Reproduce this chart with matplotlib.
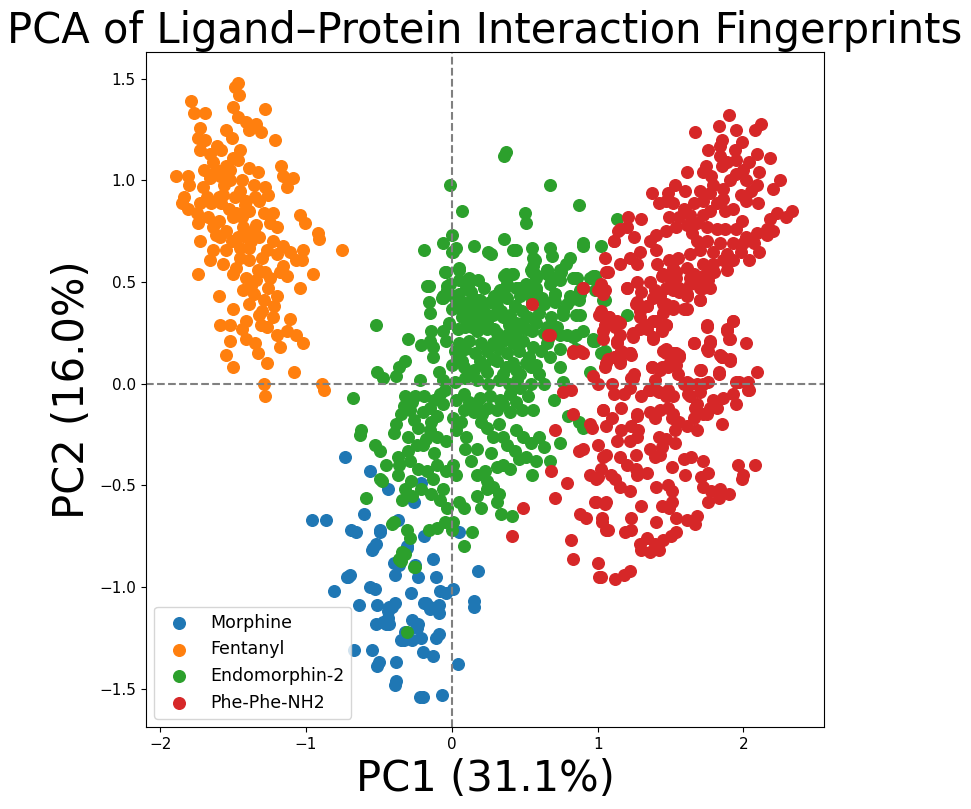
import numpy as np
import matplotlib
matplotlib.use("Agg")
import matplotlib.pyplot as plt

# PC1 / PC2 scores, one list per ligand
ligands = ["Morphine", "Fentanyl", "Endomorphin-2", "Phe-Phe-NH2"]
colors = ["tab:blue", "tab:orange", "tab:green", "tab:red"]

morphine_pc = [
    (-0.73, -0.36), (-0.56, -0.43), (-0.44, -0.52), (-0.21, -0.49), (-0.26, -0.58),
    (-0.60, -0.64), (-0.96, -0.67), (-0.86, -0.67), (-0.69, -0.72), (-0.66, -0.73),
    (-0.49, -0.72), (-0.37, -0.67), (-0.19, -0.75), (0.05, -0.73), (-0.54, -0.81),
    (-0.52, -0.79), (-0.31, -0.81), (-0.40, -0.88), (-0.36, -0.89), (-0.25, -0.89),
    (-0.13, -0.86), (0.18, -0.92), (-0.72, -0.95), (-0.70, -0.94), (-0.39, -0.94),
    (-0.23, -0.95), (-0.11, -0.95), (-0.81, -1.02), (-0.56, -1.00), (-0.53, -1.01),
    (-0.28, -1.03), (-0.08, -1.02), (-0.04, -1.03), (0.01, -1.01), (0.15, -1.07),
    (0.15, -1.10), (-0.64, -1.09), (-0.51, -1.09), (-0.39, -1.08), (-0.43, -1.10),
    (-0.19, -1.08), (-0.15, -1.10), (-0.09, -1.09), (-0.09, -1.13), (-0.52, -1.18),
    (-0.47, -1.17), (-0.44, -1.15), (-0.43, -1.18), (-0.27, -1.16), (-0.23, -1.18),
    (-0.33, -1.26), (-0.27, -1.26), (-0.21, -1.25), (-0.09, -1.23), (-0.67, -1.31),
    (-0.55, -1.31), (-0.20, -1.32), (-0.13, -1.34), (-0.50, -1.37), (-0.38, -1.37),
    (0.04, -1.38), (-0.38, -1.46), (-0.20, -1.54), (-0.07, -1.53), (-0.55, -0.82),
    (-0.31, -0.80), (-0.71, -0.95), (-0.49, -0.73), (-0.41, -1.10), (-0.44, -1.12),
    (-0.18, -1.08), (-0.15, -1.11), (-0.24, -1.20), (-0.35, -1.26), (-0.32, -1.22),
    (-0.11, -1.25), (-0.51, -1.39), (-0.39, -1.48), (-0.22, -1.54), (-0.45, -1.18),
]

fentanyl_pc = [
    (-1.47, 1.48), (-1.49, 1.46), (-1.46, 1.42), (-1.79, 1.39), (-1.50, 1.36),
    (-1.28, 1.35), (-1.77, 1.33), (-1.69, 1.33), (-1.47, 1.31), (-1.41, 1.29),
    (-1.34, 1.28), (-1.39, 1.25), (-1.31, 1.24), (-1.73, 1.26), (-1.55, 1.25),
    (-1.51, 1.21), (-1.21, 1.20), (-1.74, 1.21), (-1.69, 1.20), (-1.61, 1.17),
    (-1.73, 1.15), (-1.66, 1.13), (-1.58, 1.15), (-1.50, 1.11), (-1.47, 1.10),
    (-1.64, 1.09), (-1.55, 1.07), (-1.39, 1.06), (-1.33, 1.04), (-1.89, 1.02),
    (-1.81, 1.02), (-1.17, 1.07), (-1.16, 1.02), (-1.09, 1.01), (-1.13, 0.97),
    (-1.80, 0.98), (-1.71, 0.97), (-1.66, 1.01), (-1.59, 1.02), (-1.52, 1.00),
    (-1.44, 1.00), (-1.36, 0.98), (-1.28, 0.97), (-1.84, 0.92), (-1.85, 0.89),
    (-1.81, 0.86), (-1.73, 0.89), (-1.65, 0.89), (-1.57, 0.93), (-1.58, 0.89),
    (-1.49, 0.92), (-1.41, 0.90), (-1.32, 0.90), (-1.26, 0.93), (-1.48, 0.84),
    (-1.39, 0.85), (-1.29, 0.84), (-1.23, 0.84), (-1.75, 0.84), (-1.67, 0.82),
    (-1.60, 0.80), (-1.50, 0.82), (-1.04, 0.83), (-1.01, 0.79), (-1.74, 0.79),
    (-1.64, 0.77), (-1.55, 0.75), (-1.43, 0.77), (-1.34, 0.78), (-1.25, 0.79),
    (-1.20, 0.77), (-0.92, 0.74), (-0.91, 0.71), (-1.73, 0.70), (-1.59, 0.72),
    (-1.51, 0.70), (-1.41, 0.72), (-1.32, 0.72), (-1.23, 0.70), (-1.16, 0.68),
    (-0.75, 0.66), (-1.02, 0.66), (-1.64, 0.66), (-1.55, 0.66), (-1.45, 0.67),
    (-1.39, 0.67), (-1.27, 0.66), (-1.20, 0.64), (-1.11, 0.65), (-1.07, 0.61),
    (-1.03, 0.61), (-1.66, 0.61), (-1.57, 0.59), (-1.48, 0.57), (-1.39, 0.61),
    (-1.16, 0.58), (-1.13, 0.53), (-0.95, 0.54), (-1.74, 0.54), (-1.50, 0.54),
    (-1.41, 0.52), (-1.34, 0.51), (-1.25, 0.52), (-1.04, 0.47), (-1.60, 0.43),
    (-1.43, 0.46), (-1.36, 0.44), (-1.29, 0.41), (-1.20, 0.43), (-1.39, 0.39),
    (-1.50, 0.37), (-1.32, 0.34), (-1.41, 0.31), (-1.23, 0.33), (-1.11, 0.32),
    (-1.59, 0.29), (-1.52, 0.29), (-1.44, 0.27), (-1.27, 0.28), (-1.20, 0.24),
    (-1.13, 0.26), (-1.07, 0.24), (-1.02, 0.20), (-1.52, 0.21), (-1.41, 0.22),
    (-1.35, 0.20), (-1.33, 0.15), (-1.18, 0.18), (-1.55, 0.14), (-1.27, 0.10),
    (-1.50, 0.08), (-1.08, 0.06), (-1.29, 0.00), (-0.89, 0.00), (-1.28, -0.06),
    (-0.88, -0.03), (-1.62, 1.05), (-1.56, 0.98), (-1.45, 0.95), (-1.53, 0.86),
    (-1.44, 0.82), (-1.36, 0.75), (-1.30, 0.62), (-1.33, 0.56), (-1.45, 0.62),
    (-1.26, 0.47), (-1.30, 0.36), (-1.70, 1.05), (-1.60, 0.92), (-1.38, 0.70),
    (-1.18, 0.55), (-1.22, 0.38), (-1.52, 1.05), (-1.45, 1.15), (-1.42, 0.88),
    (-1.35, 0.92), (-1.47, 0.72), (-1.28, 0.55), (-1.38, 0.48), (-1.31, 0.29),
    (-1.68, 0.92), (-1.62, 0.73),
]

endomorphin_pc = [
    (0.36, 1.12), (0.37, 1.14), (-0.01, 0.98), (0.67, 0.98), (0.87, 0.88),
    (0.07, 0.85), (0.50, 0.84), (0.51, 0.79), (0.00, 0.73), (0.36, 0.71),
    (-0.06, 0.69), (-0.19, 0.66), (0.03, 0.67), (0.00, 0.65), (0.15, 0.68),
    (0.25, 0.65), (0.27, 0.64), (0.42, 0.66), (0.44, 0.66), (0.55, 0.67),
    (0.56, 0.62), (0.67, 0.67), (0.69, 0.63), (0.81, 0.62), (0.90, 0.68),
    (1.02, 0.68), (-0.05, 0.55), (0.05, 0.57), (0.12, 0.52), (0.18, 0.51),
    (0.36, 0.53), (0.41, 0.54), (0.38, 0.49), (0.54, 0.56), (0.57, 0.54),
    (0.65, 0.56), (0.74, 0.56), (0.78, 0.59), (0.68, 0.50), (0.86, 0.52),
    (0.97, 0.53), (-0.17, 0.48), (-0.03, 0.48), (0.01, 0.43), (-0.06, 0.43),
    (0.10, 0.50), (0.10, 0.47), (0.32, 0.45), (0.36, 0.46), (0.46, 0.47),
    (0.51, 0.47), (0.58, 0.47), (0.53, 0.44), (0.71, 0.44), (0.81, 0.43),
    (0.87, 0.41), (-0.16, 0.40), (-0.15, 0.35), (-0.06, 0.42), (0.02, 0.38),
    (0.11, 0.39), (0.17, 0.41), (0.21, 0.39), (0.26, 0.40), (0.31, 0.38),
    (0.43, 0.38), (0.48, 0.36), (0.63, 0.39), (0.76, 0.36), (0.88, 0.34),
    (-0.52, 0.29), (-0.30, 0.22), (-0.21, 0.19), (-0.14, 0.26), (-0.15, 0.21),
    (-0.06, 0.26), (0.07, 0.33), (0.09, 0.28), (0.12, 0.33), (0.17, 0.31),
    (0.20, 0.34), (0.24, 0.31), (0.28, 0.34), (0.35, 0.33), (0.44, 0.30),
    (0.17, 0.26), (0.24, 0.27), (0.31, 0.25), (0.38, 0.24), (0.44, 0.25),
    (0.51, 0.27), (0.58, 0.30), (0.63, 0.25), (0.72, 0.28), (0.79, 0.24),
    (0.85, 0.24), (0.97, 0.21), (-0.13, 0.18), (-0.04, 0.21), (0.05, 0.20),
    (0.12, 0.21), (0.20, 0.20), (0.28, 0.20), (0.35, 0.21), (0.42, 0.20),
    (0.49, 0.21), (0.56, 0.18), (0.65, 0.20), (0.74, 0.17), (0.85, 0.17),
    (1.02, 0.15), (-0.32, 0.11), (-0.36, 0.08), (-0.51, 0.06), (-0.47, 0.03),
    (-0.38, 0.04), (-0.22, 0.02), (-0.13, 0.13), (-0.09, 0.06), (-0.06, 0.02),
    (0.04, 0.13), (0.08, 0.08), (0.12, 0.05), (0.19, 0.11), (0.24, 0.06),
    (0.31, 0.11), (0.35, 0.05), (0.42, 0.10), (0.47, 0.05), (0.54, 0.08),
    (0.60, 0.05), (0.67, 0.13), (0.74, 0.08), (0.76, 0.01), (0.95, 0.06),
    (1.04, 0.41), (0.98, 0.21), (1.13, 0.81), (0.83, 0.52), (0.95, 0.52),
    (0.98, 0.53), (0.88, 0.44), (1.05, 0.41), (1.20, 0.34), (0.97, 0.22),
    (1.05, 0.16), (0.76, 0.34), (0.70, 0.41), (0.65, 0.54), (0.74, 0.51),
    (0.79, 0.39), (0.85, 0.34), (0.90, 0.26), (0.83, 0.23), (0.74, 0.24),
    (0.65, 0.28),
    (-0.68, -0.07), (-0.32, -0.06), (-0.25, -0.06), (-0.19, -0.06), (-0.08, -0.05),
    (-0.05, -0.03), (-0.33, -0.11), (-0.29, -0.13), (-0.15, -0.12), (-0.06, -0.10),
    (0.08, -0.05), (0.12, -0.09), (0.19, -0.07), (0.26, -0.06), (0.33, -0.08),
    (0.40, -0.05), (0.47, -0.02), (0.54, 0.00), (0.63, 0.00), (0.08, -0.13),
    (0.15, -0.14), (0.21, -0.15), (0.31, -0.13), (0.40, -0.14), (0.48, -0.13),
    (0.56, -0.13), (0.70, -0.08), (0.80, -0.16), (0.87, -0.19), (0.90, -0.22),
    (-0.38, -0.20), (-0.40, -0.24), (-0.62, -0.23), (-0.63, -0.25), (-0.30, -0.26),
    (-0.23, -0.22), (-0.15, -0.23), (-0.10, -0.26), (-0.04, -0.28), (-0.14, -0.19),
    (0.01, -0.17), (0.03, -0.23), (0.10, -0.26), (0.17, -0.32), (0.09, -0.32),
    (0.24, -0.22), (0.28, -0.26), (0.35, -0.26), (0.44, -0.23), (0.49, -0.26),
    (0.54, -0.29), (0.60, -0.26), (0.63, -0.31), (0.38, -0.30), (0.43, -0.33),
    (0.46, -0.37), (0.51, -0.36), (0.58, -0.38), (0.67, -0.38), (0.55, -0.45),
    (0.74, -0.29), (-0.53, -0.30), (-0.49, -0.33), (-0.45, -0.40), (-0.37, -0.36),
    (-0.36, -0.40), (-0.29, -0.38), (-0.37, -0.45), (-0.48, -0.48), (-0.23, -0.42),
    (-0.28, -0.48), (-0.17, -0.43), (-0.10, -0.40), (-0.04, -0.43), (0.03, -0.45),
    (0.01, -0.40), (-0.32, -0.52), (-0.34, -0.57), (-0.14, -0.54), (-0.06, -0.52),
    (-0.08, -0.57), (-0.03, -0.61), (0.05, -0.58), (0.08, -0.61), (0.17, -0.45),
    (0.23, -0.43), (0.24, -0.48), (0.31, -0.41), (0.35, -0.40), (0.40, -0.42),
    (0.28, -0.51), (0.32, -0.54), (0.24, -0.52), (0.17, -0.55), (0.31, -0.58),
    (0.20, -0.61), (0.34, -0.64), (0.41, -0.65), (-0.59, -0.56), (-0.41, -0.69),
    (-0.40, -0.68), (-0.31, -0.72), (-0.29, -0.76), (-0.05, -0.68), (0.01, -0.68),
    (0.00, -0.72), (-0.16, -0.72), (-0.10, -0.71), (0.14, -0.73), (0.08, -0.80),
    (-0.34, -0.83), (-0.36, -0.86), (-0.32, -0.84), (-0.25, -0.90), (-0.31, -1.22),
    (-0.49, -0.47),
    # dense core
    (-0.03, 0.46), (0.05, 0.44), (0.13, 0.45), (0.22, 0.47), (0.29, 0.43),
    (0.38, 0.42), (0.47, 0.43), (0.55, 0.40), (0.62, 0.42), (0.00, 0.37),
    (0.08, 0.35), (0.15, 0.37), (0.23, 0.35), (0.34, 0.36), (0.40, 0.34),
    (0.52, 0.33), (0.60, 0.35), (0.68, 0.33), (-0.02, 0.30), (0.04, 0.27),
    (0.14, 0.28), (0.21, 0.29), (0.29, 0.27), (0.39, 0.29), (0.48, 0.30),
    (0.55, 0.26), (0.66, 0.22), (0.02, 0.16), (0.09, 0.17), (0.16, 0.15),
    (0.24, 0.16), (0.32, 0.17), (0.38, 0.15), (0.46, 0.16), (0.53, 0.13),
    (0.61, 0.16), (0.00, 0.09), (0.07, 0.11), (0.15, 0.07), (0.22, 0.09),
    (0.28, 0.12), (0.37, 0.08), (0.44, 0.07), (0.51, 0.10), (0.58, 0.09),
    (0.02, 0.01), (0.09, 0.03), (0.17, 0.02), (0.25, 0.00), (0.32, 0.02),
    (0.39, 0.00), (0.45, 0.02), (0.03, -0.08), (0.17, -0.11), (0.25, -0.12),
    (0.35, -0.10), (0.44, -0.09), (0.52, -0.06), (-0.10, -0.16), (0.06, -0.19),
    (0.20, -0.19), (0.32, -0.20), (-0.20, -0.30), (-0.12, -0.34), (0.13, -0.38),
    (0.27, -0.34), (-0.27, -0.09), (-0.20, -0.14), (-0.12, -0.08), (-0.35, -0.15),
    (-0.26, -0.18), (-0.18, -0.27), (-0.30, -0.33), (-0.24, -0.30), (-0.13, -0.47),
    (-0.21, -0.52), (-0.27, -0.55), (-0.35, -0.87), (-0.26, -0.90),
    # upper band
    (0.01, 0.65), (0.57, 0.61), (0.56, 0.58), (0.90, 0.69), (-0.04, 0.55),
    (0.05, 0.56), (-0.16, 0.48), (-0.01, 0.49), (0.05, 0.51), (0.11, 0.48),
    (-0.07, 0.42), (0.37, 0.54), (0.42, 0.54), (0.37, 0.52), (0.33, 0.46),
    (0.44, 0.47), (0.51, 0.49), (0.55, 0.55), (0.58, 0.52), (0.65, 0.56),
    (0.70, 0.52), (0.67, 0.49), (0.75, 0.55), (0.84, 0.52), (0.88, 0.46),
    (0.97, 0.52), (0.98, 0.46), (0.71, 0.44), (0.58, 0.46), (0.49, 0.47),
    (0.31, 0.41), (0.19, 0.41), (0.11, 0.40), (0.07, 0.39), (0.06, 0.37),
    (0.43, 0.38), (0.55, 0.40), (0.71, 0.40), (0.81, 0.41),
]

phe_phe_pc = [
    (1.90, 1.32), (1.83, 1.27), (1.95, 1.25), (2.12, 1.28), (2.08, 1.25),
    (1.67, 1.24), (1.85, 1.20), (1.99, 1.19), (1.84, 1.17), (1.76, 1.15),
    (1.94, 1.15), (2.09, 1.13), (2.18, 1.11), (1.84, 1.12), (1.89, 1.09),
    (2.04, 1.09), (1.74, 1.07), (1.85, 1.07), (2.00, 1.05), (2.11, 1.04),
    (1.61, 1.04), (1.72, 1.04), (2.25, 1.00), (1.95, 1.03), (1.91, 1.00),
    (2.02, 1.00), (2.09, 0.98), (2.20, 0.96), (1.79, 0.98), (1.86, 0.96),
    (1.77, 0.94), (1.70, 0.95), (1.53, 0.98), (1.48, 0.94), (1.37, 0.94),
    (1.98, 0.93), (2.02, 0.90), (2.10, 0.89), (1.86, 0.91), (1.82, 0.89),
    (1.72, 0.90), (1.66, 0.89), (1.59, 0.86), (1.52, 0.89), (1.47, 0.90),
    (1.42, 0.89), (1.93, 0.86), (1.87, 0.85), (1.77, 0.85), (1.72, 0.83),
    (1.63, 0.83), (1.56, 0.82), (1.49, 0.82), (1.99, 0.80), (2.23, 0.84),
    (2.18, 0.81), (2.29, 0.82), (2.33, 0.85), (1.68, 0.79), (1.61, 0.78),
    (1.54, 0.77), (1.30, 0.81), (1.21, 0.82), (1.20, 0.77), (1.75, 0.77),
    (1.82, 0.76), (1.87, 0.76), (2.16, 0.76), (2.09, 0.74), (2.02, 0.72),
    (2.20, 0.75), (1.15, 0.76), (1.11, 0.70), (1.47, 0.75), (1.40, 0.73),
    (1.36, 0.70), (1.68, 0.70), (1.75, 0.70), (1.84, 0.69), (1.93, 0.69),
    (2.00, 0.69), (2.07, 0.69), (2.16, 0.73), (1.98, 0.65), (1.89, 0.64),
    (1.79, 0.65), (1.70, 0.66), (1.63, 0.64), (1.29, 0.65), (1.22, 0.62),
    (1.15, 0.59), (1.06, 0.55), (1.27, 0.59), (1.41, 0.59), (1.49, 0.61),
    (1.52, 0.57), (1.61, 0.57), (1.72, 0.59), (1.79, 0.59), (1.86, 0.61),
    (1.93, 0.61), (2.04, 0.61), (2.11, 0.65), (1.89, 0.56), (1.75, 0.54),
    (1.66, 0.54), (1.72, 0.53), (1.45, 0.54), (1.36, 0.50), (1.54, 0.52),
    (1.63, 0.49), (1.70, 0.47), (1.77, 0.47), (1.47, 0.47), (1.40, 0.45),
    (1.56, 0.45), (1.61, 0.43), (1.70, 0.41), (1.20, 0.47), (1.02, 0.49),
    (1.05, 0.46), (0.90, 0.47), (1.27, 0.40), (1.34, 0.38), (1.45, 0.39),
    (1.52, 0.37), (1.61, 0.37), (1.02, 0.35), (1.08, 0.33), (1.15, 0.30),
    (1.29, 0.33), (1.38, 0.31), (1.47, 0.29), (1.34, 0.27), (1.44, 0.27),
    (1.75, 0.29), (1.93, 0.31), (1.89, 0.27), (1.04, 0.26), (1.15, 0.24),
    (1.24, 0.23), (1.38, 0.22), (1.66, 0.20), (1.77, 0.21), (1.91, 0.22),
    (2.02, 0.20), (0.66, 0.24), (0.83, 0.16), (0.88, 0.16), (1.13, 0.21),
    (1.11, 0.13), (1.22, 0.15), (1.47, 0.17), (1.54, 0.15), (1.75, 0.17),
    (1.84, 0.14), (0.55, 0.39), (0.90, 0.15), (0.97, 0.04),
    (1.06, 0.10), (1.15, 0.10), (1.23, 0.14), (1.18, 0.15),
    (1.00, 0.00), (1.23, 0.03), (1.37, 0.08), (1.44, 0.08), (1.48, 0.09),
    (1.56, 0.14), (1.47, 0.15), (1.71, 0.07), (1.85, 0.13), (1.91, 0.11),
    (1.83, 0.05), (2.09, 0.06), (2.03, 0.01), (1.97, 0.01), (1.76, 0.01),
    (1.68, 0.00), (1.61, 0.01), (1.39, 0.02), (1.36, -0.03), (1.42, -0.04),
    (1.48, -0.03), (1.52, -0.06), (1.62, -0.05), (1.70, -0.04), (1.79, -0.08),
    (1.86, -0.07), (1.93, -0.05), (2.03, -0.03), (0.76, -0.04), (0.82, -0.03),
    (1.11, -0.05), (1.18, -0.05), (1.22, -0.02), (1.04, -0.13), (1.16, -0.12),
    (1.10, -0.17), (1.06, -0.21), (1.27, -0.16), (1.36, -0.14), (1.39, -0.17),
    (1.48, -0.12), (1.51, -0.17), (1.56, -0.19), (1.67, -0.12), (1.72, -0.15),
    (1.66, -0.17), (1.77, -0.12), (1.68, -0.23), (1.61, -0.21), (1.53, -0.23),
    (1.16, -0.23), (1.23, -0.21), (1.28, -0.23), (1.13, -0.28), (1.22, -0.28),
    (1.27, -0.26), (1.42, -0.26), (1.47, -0.27), (1.53, -0.29), (1.44, -0.31),
    (1.36, -0.32), (1.39, -0.36), (1.43, -0.35), (1.26, -0.35), (1.15, -0.36),
    (1.04, -0.36), (1.06, -0.35), (1.00, -0.30), (0.83, -0.15), (0.71, -0.23),
    (0.87, -0.33), (0.90, -0.32), (0.95, -0.20), (0.96, -0.22), (1.04, -0.13),
    (0.68, -0.43), (0.79, -0.49), (0.71, -0.56), (0.49, -0.61),
    (0.41, -0.75), (0.82, -0.77), (0.83, -0.86), (1.00, -0.88), (1.02, -0.95),
    (0.95, -0.45), (1.00, -0.46), (0.98, -0.58), (1.05, -0.59), (0.88, -0.64),
    (0.92, -0.66), (1.03, -0.68), (1.06, -0.72), (0.67, 0.24), (0.90, 0.47),
    (0.99, -0.47), (1.02, -0.42), (1.09, -0.45), (1.12, -0.47), (1.15, -0.51),
    (1.22, -0.53), (1.26, -0.42), (1.27, -0.45), (1.34, -0.44), (1.51, -0.41),
    (1.59, -0.37), (1.64, -0.36), (1.72, -0.38), (1.76, -0.44), (1.71, -0.46),
    (1.72, -0.51), (1.78, -0.53), (1.84, -0.52), (1.90, -0.54), (1.76, -0.58),
    (1.83, -0.56), (1.96, -0.40), (2.08, -0.40), (1.99, -0.47), (2.00, -0.45),
    (1.40, -0.51), (1.48, -0.50), (1.51, -0.53), (1.51, -0.58), (1.44, -0.60),
    (1.49, -0.61), (1.54, -0.66), (1.61, -0.67), (1.67, -0.69), (1.68, -0.65),
    (1.54, -0.73), (1.50, -0.75), (1.45, -0.77), (1.39, -0.79), (1.34, -0.76),
    (1.29, -0.79), (1.30, -0.82), (1.36, -0.83), (1.42, -0.82), (1.23, -0.66),
    (1.19, -0.73), (1.23, -0.72), (1.07, -0.72), (1.03, -0.66), (0.99, -0.58),
    (1.06, -0.58), (1.01, -0.95), (1.12, -0.96), (1.18, -0.94), (1.22, -0.92),
    (0.83, 0.15), (1.60, 0.95), (1.78, 1.02), (1.95, 1.10), (2.05, 0.95),
    (1.65, 0.74), (1.95, 0.76), (1.40, 0.66), (1.55, 0.62), (1.45, 0.35),
    (1.30, 0.45), (1.25, 0.05), (1.30, -0.06), (1.55, 0.05), (1.20, -0.40),
    (1.30, -0.60), (1.40, -0.68), (1.60, -0.45), (1.85, -0.20), (1.95, -0.10),
    (1.10, 0.00), (1.05, 0.62), (1.25, 0.72),
    # middle of the main body
    (1.02, 0.48), (1.04, 0.44), (1.00, 0.46), (1.20, 0.47), (1.27, 0.50),
    (1.44, 0.53), (1.50, 0.52), (1.54, 0.55), (1.63, 0.52), (1.70, 0.52),
    (1.76, 0.51), (1.80, 0.55), (1.39, 0.46), (1.43, 0.43), (1.38, 0.42),
    (1.52, 0.46), (1.56, 0.47), (1.61, 0.44), (1.70, 0.41), (1.72, 0.47),
    (1.26, 0.39), (1.29, 0.36), (1.34, 0.38), (1.47, 0.39), (1.52, 0.38),
    (1.59, 0.37), (1.01, 0.34), (1.08, 0.33), (1.13, 0.31), (1.05, 0.29),
    (1.12, 0.28), (1.24, 0.25), (1.29, 0.27), (1.34, 0.29), (1.40, 0.31),
    (1.47, 0.29), (1.38, 0.23), (1.44, 0.26), (1.75, 0.28), (1.93, 0.31),
    (1.89, 0.26), (1.90, 0.22), (1.66, 0.20), (1.77, 0.20), (1.76, 0.16),
    (1.04, 0.22), (1.13, 0.20), (1.16, 0.16), (1.22, 0.15), (1.15, 0.11),
    (1.07, 0.12), (1.45, 0.16), (1.52, 0.15), (1.56, 0.13), (1.50, 0.11),
    (1.85, 0.13), (1.91, 0.12), (1.37, 0.08), (1.43, 0.07), (1.48, 0.08),
    (1.54, 0.09), (1.70, 0.07), (1.83, 0.06), (1.05, 0.08), (1.24, 0.03),
    (1.59, 0.00), (1.63, 0.00), (1.72, 0.00), (1.95, 0.01), (2.04, -0.03),
    (1.35, -0.03), (1.40, -0.03), (1.47, -0.06), (1.63, -0.06), (1.27, -0.15),
    (1.43, -0.13), (1.52, -0.15), (1.68, -0.10), (1.75, -0.15), (1.82, -0.12),
    (1.11, 0.70), (1.07, 0.55), (1.14, 0.75), (1.02, 0.36),
]

groups = [morphine_pc, fentanyl_pc, endomorphin_pc, phe_phe_pc]

fig, ax = plt.subplots(figsize=(9.71, 8.09), dpi=100)
fig.subplots_adjust(left=0.150, right=0.849, bottom=0.101, top=0.936)

for name, pts, c in zip(ligands, groups, colors):
    pts = np.array(pts)
    ax.scatter(pts[:, 0], pts[:, 1], s=70, color=c, label=name)

ax.axhline(0, color="gray", linestyle="--", linewidth=1.5)
ax.axvline(0, color="gray", linestyle="--", linewidth=1.5)

ax.set_xlim(-2.10, 2.555)
ax.set_ylim(-1.69, 1.633)
ax.tick_params(labelsize=11)
ax.set_xlabel("PC1 (31.1%)", fontsize=30)
ax.set_ylabel("PC2 (16.0%)", fontsize=30)
ax.set_title("PCA of Ligand\u2013Protein Interaction Fingerprints", fontsize=30)
ax.legend(loc="lower left", fontsize=12.5)

fig.savefig("out.png", dpi=100)
